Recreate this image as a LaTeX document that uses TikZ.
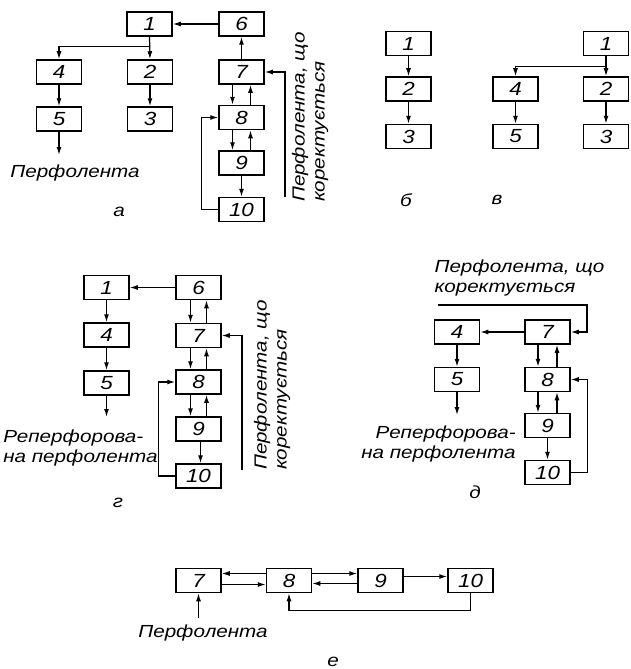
\documentclass[tikz,border=0pt]{standalone}
\usepackage{fontspec}
\newfontfamily\gost[FakeStretch=1.18]{Liberation Sans}
\newcommand\gostfont{\gost\itshape\fontsize{17.5}{20}\selectfont}
\newcommand\gostbig{\gost\itshape\fontsize{19}{20}\selectfont}
\usetikzlibrary{arrows.meta}
\tikzset{
  blk/.style={draw, line width=1.5pt, minimum width=45pt, minimum height=24pt, inner sep=0pt, font=\gostbig},
  con/.style={line width=1.25pt},
  arr/.style={con, -{Latex[length=8pt,width=5pt]}},
  lbl/.style={inner sep=0pt, font=\gostfont}
}
\begin{document}
\begin{tikzpicture}[x=1pt,y=-1pt]
\useasboundingbox (0,0) rectangle (631,669);
% ---------- panel a ----------
\node[blk] (a1) at (149.5,24) {1};
\node[blk] (a6) at (241.5,24) {6};
\node[blk] (a4) at (59,72) {4};
\node[blk] (a2) at (150,72) {2};
\node[blk] (a5) at (59,119) {5};
\node[blk] (a3) at (150,119) {3};
\node[blk] (a7) at (241.5,72) {7};
\node[blk] (a8) at (241.5,117.5) {8};
\node[blk] (a9) at (241.5,163) {9};
\node[blk] (a10) at (241.5,209.5) {10};
\draw[arr] (a6.west) -- (a1.east);
\draw[arr] (a1.south) -- ++(0,10) -| (a4.north);
\draw[arr] (a1.south) -- (a2.north);
\draw[arr] (a4) -- (a5);
\draw[arr] (a2) -- (a3);
\coordinate (aout) at (59,155);
\draw[arr] (a5.south) -- (aout);
\draw[arr] (a7) -- (a6);
\draw[arr] ([xshift=-9pt]a7.south) -- ([xshift=-9pt]a8.north);
\draw[arr] ([xshift=9pt]a8.north) -- ([xshift=9pt]a7.south);
\draw[arr] ([xshift=-9pt]a8.south) -- ([xshift=-9pt]a9.north);
\draw[arr] ([xshift=9pt]a9.north) -- ([xshift=9pt]a8.south);
\draw[arr] (a9) -- (a10);
\draw[arr] (a10.west) -- ++(-17,0) |- (a8.west);
\coordinate (ain) at (285,197);
\draw[arr] (ain) |- (a7.east);
\node[lbl] (atape) at (75,173) {Перфолента};
\node[lbl, rotate=90, align=left] (ainl) at (310,117) {Перфолента, що\\коректується};
\node[lbl] (la) at (119,212) {а};
% ---------- panel b ----------
\node[blk] (b1) at (408.5,43.5) {1};
\node[blk] (b2) at (408.5,89) {2};
\node[blk] (b3) at (408.5,136.5) {3};
\draw[arr] (b1) -- (b2);
\draw[arr] (b2) -- (b3);
\node[lbl] (lb) at (406,200) {б};
% ---------- panel v ----------
\node[blk] (v1) at (606,43.5) {1};
\node[blk] (v2) at (606,89) {2};
\node[blk] (v3) at (606,136.5) {3};
\node[blk] (v4) at (515.5,89) {4};
\node[blk] (v5) at (515.5,136.5) {5};
\draw[arr] (v1.south) -- ++(0,10) -| (v4.north);
\draw[arr] (v1) -- (v2);
\draw[arr] (v2) -- (v3);
\draw[arr] (v4) -- (v5);
\node[lbl] (lv) at (497,200) {в};
% ---------- panel g ----------
\node[blk] (g1) at (106.5,287.5) {1};
\node[blk] (g6) at (198.5,287.5) {6};
\node[blk] (g4) at (106.5,335) {4};
\node[blk] (g7) at (198.5,335.5) {7};
\node[blk] (g5) at (106.5,383) {5};
\node[blk] (g8) at (198.5,382) {8};
\node[blk] (g9) at (198.5,429) {9};
\node[blk] (g10) at (198.5,476) {10};
\draw[arr] (g6) -- (g1);
\draw[arr] (g1) -- (g4);
\draw[arr] (g4) -- (g5);
\coordinate (gout) at (106.5,417);
\draw[arr] (g5.south) -- (gout);
\draw[arr] ([xshift=-8pt]g6.south) -- ([xshift=-8pt]g7.north);
\draw[arr] ([xshift=8pt]g7.north) -- ([xshift=8pt]g6.south);
\draw[arr] ([xshift=-8pt]g7.south) -- ([xshift=-8pt]g8.north);
\draw[arr] ([xshift=8pt]g8.north) -- ([xshift=8pt]g7.south);
\draw[arr] ([xshift=-8pt]g8.south) -- ([xshift=-8pt]g9.north);
\draw[arr] ([xshift=8pt]g9.north) -- ([xshift=8pt]g8.south);
\draw[arr] ([xshift=2pt]g9.south) -- ([xshift=2pt]g10.north);
\draw[arr] (g10.west) -- ++(-17,0) |- (g8.west);
\coordinate (gin) at (242,470);
\draw[arr] (gin) |- (g7.east);
\node[lbl, align=left] (gtape) at (80.5,447.5) {Реперфорова-\\на перфолента};
\node[lbl, rotate=90, align=left] (ginl) at (272,385) {Перфолента, що\\коректується};
\node[lbl] (lg) at (118,503) {г};
% ---------- panel d ----------
\node[blk] (d4) at (457,332) {4};
\node[blk] (d7) at (547.5,332) {7};
\node[blk] (d5) at (457,379.5) {5};
\node[blk] (d8) at (547.5,379.5) {8};
\node[blk] (d9) at (547.5,425.5) {9};
\node[blk] (d10) at (547.5,472.5) {10};
\draw[arr] (d7) -- (d4);
\draw[arr] (d4) -- (d5);
\coordinate (dout) at (457,415);
\draw[arr] (d5.south) -- (dout);
\draw[arr] ([xshift=-9.5pt]d7.south) -- ([xshift=-9.5pt]d8.north);
\draw[arr] ([xshift=9.5pt]d8.north) -- ([xshift=9.5pt]d7.south);
\draw[arr] ([xshift=-9.5pt]d8.south) -- ([xshift=-9.5pt]d9.north);
\draw[arr] ([xshift=9.5pt]d9.north) -- ([xshift=9.5pt]d8.south);
\draw[arr] (d9) -- (d10);
\draw[arr] (d10.east) -- ++(17,0) |- (d8.east);
\coordinate (din) at (438,305);
\draw[arr] (din) -- (587,305) |- (d7.east);
\node[lbl, align=left] (dinl) at (519.5,277.5) {Перфолента, що\\коректується};
\node[lbl, align=right] (dtape) at (438.5,443.5) {Реперфорова-\\на перфолента};
\node[lbl] (ld) at (475,492) {д};
% ---------- panel e ----------
\node[blk] (e7) at (198.5,580.5) {7};
\node[blk] (e8) at (289,580.5) {8};
\node[blk] (e9) at (380.5,580.5) {9};
\node[blk] (e10) at (470.5,580.5) {10};
\draw[arr] ([yshift=7pt]e8.west) -- ([yshift=7pt]e7.east);
\draw[arr] ([yshift=-4pt]e7.east) -- ([yshift=-4pt]e8.west);
\draw[arr] ([yshift=7pt]e8.east) -- ([yshift=7pt]e9.west);
\draw[arr] ([yshift=-3pt]e9.west) -- ([yshift=-3pt]e8.east);
\draw[arr] ([yshift=4pt]e9.east) -- ([yshift=4pt]e10.west);
\draw[arr] (e10.south) -- ++(0,17) -| (e8.south);
\coordinate (ein) at (198.5,618);
\draw[arr] (ein) -- (e7.south);
\node[lbl] (etape) at (203,633) {Перфолента};
\node[lbl] (le) at (333,662) {е};
\end{tikzpicture}
\end{document}
